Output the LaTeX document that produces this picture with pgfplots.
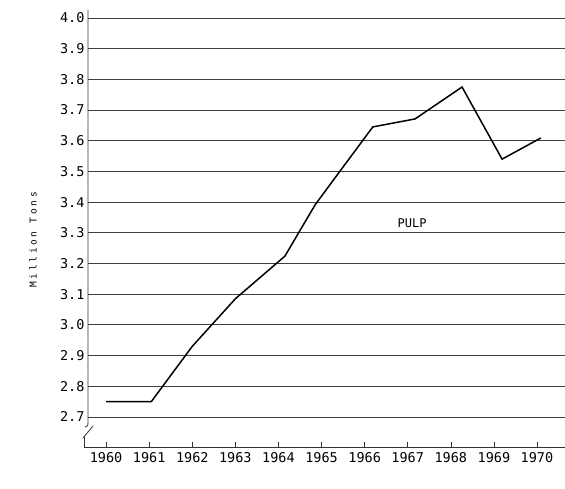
\documentclass[border=0pt]{standalone}
\usepackage{fontspec}
\setmainfont{DejaVu Sans Mono}
\usepackage{pgfplots}
\pgfplotsset{compat=1.18}
\begin{document}
\begin{tikzpicture}[x=1pt,y=1pt]
\useasboundingbox (-88,-42) rectangle (477,447);
\begin{axis}[
  at={(0,0)}, anchor=south west,
  scale only axis, width=477pt, height=437pt,
  xmin=1959.58, xmax=1970.65, ymin=2.602, ymax=4.026,
  axis x line=bottom, axis y line=left,
  axis line style={-, black!80, line width=0.8pt},
  y axis line style={draw=none},
  xtick={1960,1961,1962,1963,1964,1965,1966,1967,1968,1969,1970},
  xticklabels={1960,1961,1962,1963,1964,1965,1966,1967,1968,1969,1970},
  ytick={2.7,2.8,2.9,3.0,3.1,3.2,3.3,3.4,3.5,3.6,3.7,3.8,3.9,4.0},
  yticklabels={2.7,2.8,2.9,3.0,3.1,3.2,3.3,3.4,3.5,3.6,3.7,3.8,3.9,4.0},
  ymajorgrids,
  major grid style={black!75, line width=0.8pt},
  ytick style={draw=none},
  xtick style={black!80, line width=0.6pt},
  major tick length=5pt, tick align=inside,
  tick label style={font=\fontsize{13.5}{14}\selectfont},
  xticklabel style={yshift=-2pt},
  ylabel={Million Tons},
  ylabel style={at={(axis description cs:-0.115,0.474)}, anchor=center,
    font=\fontsize{9.5}{10}\selectfont\addfontfeature{LetterSpace=28}},
  clip=false,
]
\addplot[black, line width=1.5pt] coordinates {
  (1960,2.75) (1961.05,2.75) (1962,2.93) (1963,3.085) (1964.15,3.224)
  (1964.85,3.391) (1965.36,3.488) (1966.19,3.645) (1967.17,3.671)
  (1968.26,3.775) (1969.19,3.54) (1970.09,3.609)
};
\node[font=\fontsize{12}{12}\selectfont] at (axis cs:1967.1,3.332) {PULP};
\end{axis}
\draw[black!80, line width=0.8pt] (0,437) -- (0,24) .. controls (0,21) .. (-3,20);
\draw[black!80, line width=0.8pt] (5,21) -- (-5,9);
\draw[black!80, line width=0.8pt] (-4,10) -- (-4,0) -- (0,0);
\end{tikzpicture}
\end{document}
